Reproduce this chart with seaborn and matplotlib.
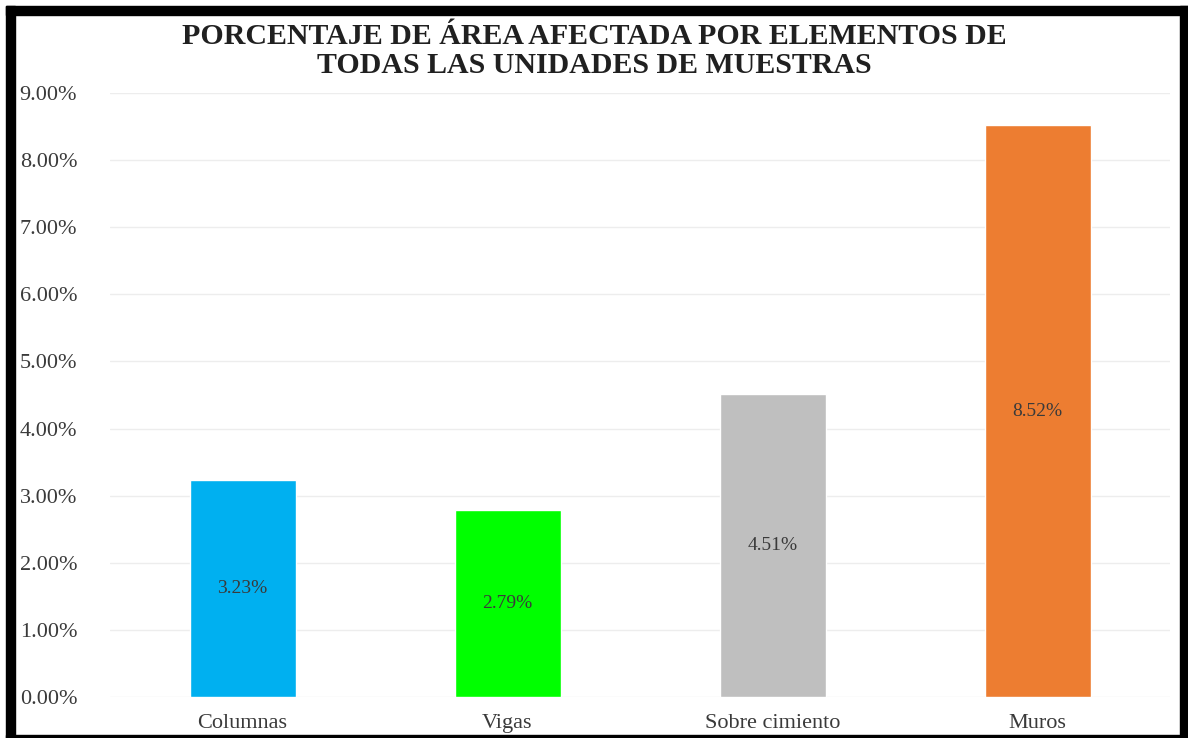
import matplotlib
matplotlib.use("Agg")
import matplotlib.pyplot as plt
import matplotlib.patches as mpatches
import seaborn as sns
import pandas as pd
from matplotlib.ticker import FuncFormatter

categories = ["Columnas", "Vigas", "Sobre cimiento", "Muros"]
values = [3.23, 2.79, 4.51, 8.52]
colors = ["#00B0F0", "#00FF00", "#BFBFBF", "#ED7D31"]
title = "PORCENTAJE DE ÁREA AFECTADA POR ELEMENTOS DE\nTODAS LAS UNIDADES DE MUESTRAS"

sns.set_theme(style="white")
plt.rcParams['font.family'] = ['Liberation Serif', 'DejaVu Serif']

df = pd.DataFrame({"cat": categories, "val": values})

fig = plt.figure(figsize=(11.88, 7.38), dpi=100)
ax = fig.add_axes([110/1188, 1 - 697/738, 1060/1188, (697-93)/738])

sns.barplot(data=df, x="cat", y="val", hue="cat", palette=colors, legend=False,
            width=0.4, ax=ax, saturation=1)

ax.set_ylim(0, 9)
ax.set_yticks([0, 1, 2, 3, 4, 5, 6, 7, 8, 9])
ax.yaxis.set_major_formatter(FuncFormatter(lambda v, p: f"{v:.2f}%"))
ax.grid(axis="y", color="#EDEDED", linewidth=1)
ax.set_axisbelow(True)
for s in ax.spines.values():
    s.set_visible(False)
ax.set_xlabel("")
ax.set_ylabel("")
ax.tick_params(axis="y", labelsize=16, colors="#3A3A3A", pad=65, length=0)
ax.tick_params(axis="x", labelsize=16, colors="#3A3A3A", pad=12, length=0)
for lbl in ax.get_yticklabels():
    lbl.set_horizontalalignment("left")

for i, v in enumerate(values):
    ax.text(i, v / 2, f"{v:.2f}%", ha="center", va="center", fontsize=14, color="#3A3A3A")

fig.text(0.5, 1 - 51/738, title, ha="center", va="center", fontsize=21.5,
         fontweight="bold", color="#202020", linespacing=1.05)

# black frame
def band(x0, y0, x1, y1):
    fig.add_artist(mpatches.Rectangle((x0/1188, 1 - y1/738), (x1-x0)/1188, (y1-y0)/738,
                                      transform=fig.transFigure, color="black", zorder=10))
band(6, 6, 15, 738)
band(6, 6, 1188, 15)
band(1180, 6, 1188, 738)
band(6, 735, 1188, 738)

fig.savefig("out.png", dpi=100)
